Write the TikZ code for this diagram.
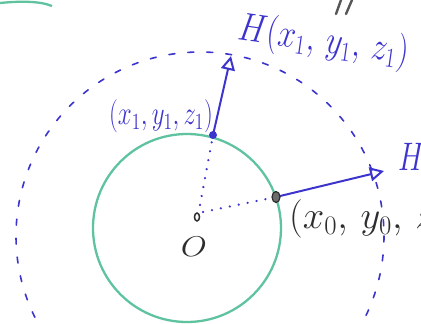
\documentclass[tikz,border=0pt]{standalone}
\usepackage{fontspec}
\usepackage{graphicx}
\usetikzlibrary{arrows.meta}
\definecolor{pen}{RGB}{60,52,205}
\definecolor{mint}{RGB}{95,195,160}
\definecolor{ink}{RGB}{45,45,45}
\tikzset{
  penline/.style={pen, line width=2pt, line cap=round},
  dotline/.style={pen, line width=2.4pt, line cap=round, dash pattern=on 0.1pt off 9pt},
  vecarrow/.style={penline, -{Triangle[open, length=14pt, width=14pt, line width=2pt]}},
  bluelabel/.style={pen, inner sep=0pt},
  blacklabel/.style={ink, inner sep=0pt},
}
\begin{document}
\begin{tikzpicture}[x=1pt,y=-1pt]
\useasboundingbox (0,0) rectangle (421,324);
\clip (0,0) rectangle (421,324);
% outer dashed circle
\draw[pen, line width=1.6pt, line cap=round, dash pattern=on 6pt off 13pt] (200,236) circle[radius=184];
% green sphere
\draw[mint, line width=2.3pt] (187,228) circle[radius=94];
% top-left green arc
\draw[mint, line width=2.3pt] (0,3) .. controls (20,1) and (40,1) .. (52,6);
% gray marks at top
\draw[ink!80, line width=2.4pt, line cap=round] (336,14) -- (341,0);
\draw[ink!80, line width=2.4pt, line cap=round] (346,14) -- (352,0);
% points
\coordinate (c) at (197,217);
\draw[ink, line width=1.5pt] (c) ellipse[x radius=2.5, y radius=4];
\coordinate (p1) at (213,135);
\coordinate (p0) at (276,197);
\node[blacklabel] (O) at (194,247) {\scalebox{1.35}[1.15]{\fontsize{24}{24}\selectfont$O$}};
% dotted radii
\draw[dotline] (200,205) -- (p1);
\draw[dotline] (203,212) -- (p0);
% vectors
\coordinate (h1) at (231,56);
\coordinate (h0) at (384,171);
\draw[vecarrow] (p1) -- (h1);
\draw[vecarrow] (p0) -- (h0);
\fill[pen] (p1) circle[radius=4];
\filldraw[ink, line width=1.2pt, fill=ink!70] (p0) ellipse[x radius=4, y radius=5.5];
% labels
\node[bluelabel, anchor=west, rotate=-8] (L1) at (238,30) {\scalebox{1.3}[1.6]{\fontsize{24}{24}\selectfont$H(x_1,\, y_1,\, z_1)$}};
\node[bluelabel] (L2) at (161,116) {\scalebox{1.2}[1.6]{\fontsize{20}{20}\selectfont$(x_1, y_1, z_1)$}};
\node[blacklabel, anchor=west] (L3) at (289,219) {\scalebox{1.55}{\fontsize{24}{24}\selectfont$(x_0,\, y_0,\, z_0)$}};
\node[bluelabel, anchor=west] (L4) at (398,161) {\scalebox{1.2}[1.6]{\fontsize{24}{24}\selectfont$H(x_0,\, y_0,\, z_0)$}};
\end{tikzpicture}
\end{document}
